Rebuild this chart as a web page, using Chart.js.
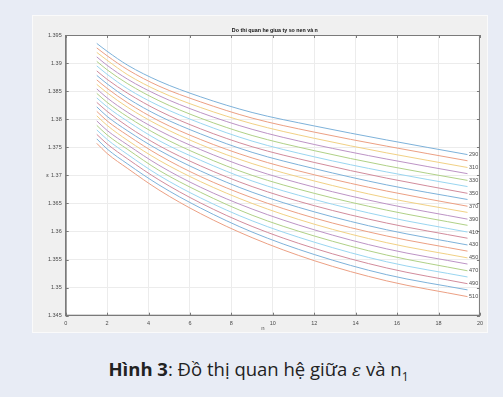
<!DOCTYPE html>
<html>
<head>
<meta charset="utf-8">
<script src="https://cdn.jsdelivr.net/npm/chart.js@4.4.1/dist/chart.umd.min.js"></script>
<style>
  html, body { margin: 0; padding: 0; }
  body { width: 503px; height: 397px; background: #e8ecf5; position: relative; overflow: hidden; }
  #panel { position: absolute; left: 33px; top: 16px; width: 454px; height: 316px; background: #f0f0f0; box-shadow: 0 0 0 1px #fafafa; }
  #caption { position: absolute; left: 0; width: 517px; top: 356px; text-align: center; font-family: 'Open Sans', sans-serif; font-size: 18.5px; color: #222; }
  #caption sub { font-size: 12px; }
</style>
</head>
<body>
<div id="panel"><canvas id="myChart" width="454" height="316"></canvas></div>
<div id="caption"><b>Hình 3</b>: Đồ thị quan hệ giữa <i style="font-family:'DejaVu Serif',serif;font-size:17px">ε</i> và n<sub>1</sub></div>
<script>
// n1 values where the curves were read
const n1 = [1.5, 2, 3, 4.5, 6.5, 9, 12, 15.5, 19.4];

// one curve per value, top to bottom
const speeds = [290, 300, 310, 320, 330, 340, 350, 360, 370, 380, 390, 400,
  410, 420, 430, 440, 450, 460, 470, 480, 490, 500, 510];

const epsRows = [
  [1.3935, 1.3921, 1.3896, 1.3868, 1.3840, 1.3812, 1.3788, 1.3763, 1.3737],
  [1.3927, 1.3913, 1.3888, 1.3859, 1.3831, 1.3802, 1.3777, 1.3752, 1.3726],
  [1.3919, 1.3905, 1.3879, 1.3850, 1.3821, 1.3792, 1.3766, 1.3740, 1.3714],
  [1.3911, 1.3896, 1.3871, 1.3842, 1.3812, 1.3782, 1.3755, 1.3729, 1.3703],
  [1.3903, 1.3888, 1.3863, 1.3833, 1.3802, 1.3771, 1.3744, 1.3717, 1.3691],
  [1.3895, 1.3880, 1.3854, 1.3824, 1.3793, 1.3761, 1.3733, 1.3706, 1.3680],
  [1.3886, 1.3871, 1.3846, 1.3815, 1.3783, 1.3751, 1.3723, 1.3695, 1.3668],
  [1.3878, 1.3863, 1.3837, 1.3806, 1.3774, 1.3741, 1.3712, 1.3683, 1.3657],
  [1.3870, 1.3855, 1.3829, 1.3797, 1.3764, 1.3731, 1.3701, 1.3672, 1.3645],
  [1.3862, 1.3847, 1.3821, 1.3789, 1.3755, 1.3721, 1.3690, 1.3660, 1.3634],
  [1.3854, 1.3838, 1.3812, 1.3780, 1.3746, 1.3711, 1.3679, 1.3649, 1.3622],
  [1.3846, 1.3830, 1.3804, 1.3771, 1.3736, 1.3700, 1.3668, 1.3638, 1.3611],
  [1.3838, 1.3822, 1.3796, 1.3762, 1.3727, 1.3690, 1.3657, 1.3626, 1.3599],
  [1.3830, 1.3814, 1.3787, 1.3753, 1.3717, 1.3680, 1.3646, 1.3615, 1.3588],
  [1.3822, 1.3805, 1.3779, 1.3745, 1.3708, 1.3670, 1.3635, 1.3603, 1.3576],
  [1.3814, 1.3797, 1.3771, 1.3736, 1.3698, 1.3660, 1.3624, 1.3592, 1.3565],
  [1.3806, 1.3789, 1.3762, 1.3727, 1.3689, 1.3650, 1.3613, 1.3580, 1.3553],
  [1.3797, 1.3780, 1.3754, 1.3718, 1.3679, 1.3640, 1.3603, 1.3569, 1.3542],
  [1.3789, 1.3772, 1.3746, 1.3709, 1.3670, 1.3629, 1.3592, 1.3558, 1.3530],
  [1.3781, 1.3764, 1.3737, 1.3700, 1.3660, 1.3619, 1.3581, 1.3546, 1.3519],
  [1.3773, 1.3756, 1.3729, 1.3692, 1.3651, 1.3609, 1.3570, 1.3535, 1.3507],
  [1.3765, 1.3747, 1.3720, 1.3683, 1.3642, 1.3599, 1.3559, 1.3523, 1.3496],
  [1.3757, 1.3739, 1.3712, 1.3674, 1.3632, 1.3589, 1.3548, 1.3512, 1.3484],
];

// only every other curve gets a label at its right end
const labelled = [290, 310, 330, 350, 370, 390, 410, 430, 450, 470, 490, 510];

const chartTitle = 'Do thi quan he giua ty so nen và n';

// matlab default colour order, washed out like the picture
const colors = ['#7eb2da', '#eca084', '#f1d185', '#bd94c6', '#b0d187', '#9ad6f1', '#d28c9c'];

const tickFont = { family: 'Liberation Sans', size: 5.5 };
const tickColor = '#4a4a4a';

const datasets = speeds.map((s, i) => ({
  label: String(s),
  data: n1.map((x, j) => ({ x: x, y: epsRows[i][j] })),
  borderColor: colors[i % colors.length],
  borderWidth: 1,
  pointRadius: 0,
  fill: false,
  cubicInterpolationMode: 'monotone',
}));

const matlabBits = {
  id: 'matlabBits',
  beforeDraw(chart) {
    const { ctx, chartArea: a } = chart;
    ctx.save();
    ctx.fillStyle = '#ffffff';
    ctx.fillRect(a.left, a.top, a.right - a.left, a.bottom - a.top);
    ctx.restore();
  },
  afterDraw(chart) {
    const { ctx, chartArea: a, scales } = chart;
    ctx.save();
    // box
    ctx.strokeStyle = '#7a7a7a';
    ctx.lineWidth = 1;
    ctx.strokeRect(a.left + 0.5, a.top + 0.5, a.right - a.left - 1, a.bottom - a.top - 1);
    // inward ticks
    ctx.beginPath();
    scales.x.ticks.forEach((t) => {
      const px = Math.round(scales.x.getPixelForValue(t.value)) + 0.5;
      ctx.moveTo(px, a.top); ctx.lineTo(px, a.top + 3);
      ctx.moveTo(px, a.bottom); ctx.lineTo(px, a.bottom - 3);
    });
    scales.y.ticks.forEach((t) => {
      const py = Math.round(scales.y.getPixelForValue(t.value)) + 0.5;
      ctx.moveTo(a.left, py); ctx.lineTo(a.left + 3, py);
      ctx.moveTo(a.right, py); ctx.lineTo(a.right - 3, py);
    });
    ctx.stroke();

    // title
    ctx.fillStyle = '#111';
    ctx.font = 'bold 5.3px "Liberation Sans"';
    ctx.textAlign = 'center';
    ctx.textBaseline = 'bottom';
    ctx.fillText(chartTitle, (a.left + a.right) / 2 + 2, a.top - 2);

    // curve labels
    ctx.font = '5.5px "Liberation Sans"';
    ctx.fillStyle = tickColor;
    ctx.textAlign = 'left';
    ctx.textBaseline = 'middle';
    chart.data.datasets.forEach((ds) => {
      if (!labelled.includes(Number(ds.label))) return;
      const last = ds.data[ds.data.length - 1];
      ctx.fillText(ds.label, scales.x.getPixelForValue(last.x) + 1.5, scales.y.getPixelForValue(last.y));
    });

    // axis names
    ctx.font = '6px "Liberation Sans"';
    ctx.textAlign = 'center';
    ctx.fillText('ε', a.left - 18, (a.top + a.bottom) / 2);
    ctx.fillText('n', (a.left + a.right) / 2 - 10, a.bottom + 13);
    ctx.restore();
  },
};

const ctx = document.getElementById('myChart').getContext('2d');
const myChart = new Chart(ctx, {
  type: 'line',
  data: { datasets: datasets },
  options: {
    responsive: false,
    animation: false,
    layout: { padding: { top: 19, right: 6, left: 0, bottom: 0 } },
    plugins: { legend: { display: false }, tooltip: { enabled: false } },
    scales: {
      x: {
        type: 'linear',
        min: 0,
        max: 20,
        afterFit: (scale) => { scale.height = 16.3; },
        ticks: { stepSize: 2, font: tickFont, color: tickColor, padding: 4, maxRotation: 0 },
        grid: { color: '#ececec', drawTicks: false },
        border: { color: '#7a7a7a' },
      },
      y: {
        min: 1.345,
        max: 1.395,
        afterFit: (scale) => { scale.width = 32.7; },
        ticks: {
          stepSize: 0.005,
          font: tickFont,
          color: tickColor,
          padding: 4,
          callback: (v) => String(Number(v.toFixed(3))),
        },
        grid: { color: '#ececec', drawTicks: false },
        border: { color: '#7a7a7a' },
      },
    },
  },
  plugins: [matlabBits],
});
</script>
</body>
</html>
